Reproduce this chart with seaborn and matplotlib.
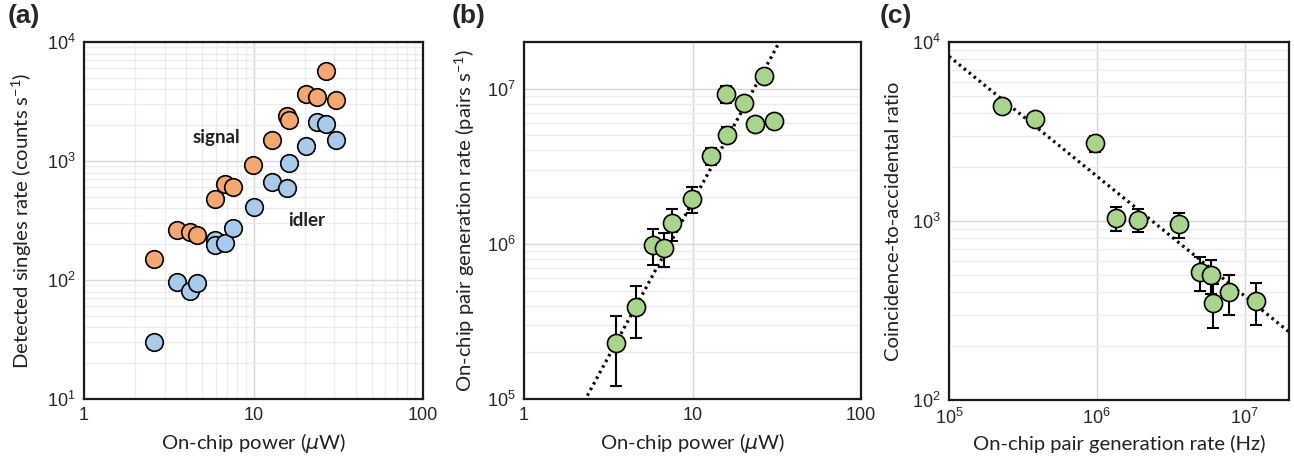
import numpy as np
import matplotlib
matplotlib.use("Agg")
import matplotlib.pyplot as plt
import matplotlib.ticker as mticker
import seaborn as sns

# ---------------- data ----------------
# (a) detected singles rates
signal_power = [2.60, 3.53, 4.21, 4.66, 5.92, 6.81, 7.59, 9.91, 12.9, 15.7, 16.2, 20.4, 23.8, 26.7, 30.8]
signal_rate = [151, 262, 254, 241, 481, 647, 607, 933, 1514, 2406, 2198, 3682, 3430, 5670, 3236]
idler_power = [2.60, 3.53, 4.21, 4.66, 5.92, 5.92, 6.81, 7.59, 10.0, 12.9, 15.7, 16.2, 20.4, 23.6, 26.9, 30.8]
idler_rate = [30.3, 96, 80.7, 95, 216, 196, 205, 271, 412, 668, 598, 964, 1330, 2143, 2061, 1514]

# (b) on-chip pair generation rate vs power
pair_power = [3.51, 4.59, 5.84, 6.76, 7.57, 9.95, 12.9, 15.7, 16.1, 20.2, 23.6, 26.7, 30.6]
pair_rate = [2.31e5, 3.91e5, 9.9e5, 9.38e5, 1.36e6, 1.95e6, 3.69e6, 9.25e6, 5.06e6, 8.05e6, 5.96e6, 1.20e7, 6.22e6]
pair_err = [1.1e5, 1.45e5, 2.6e5, 2.3e5, 3.1e5, 3.6e5, 4.8e5, 1.2e6, 6.0e5, 4.0e5, 5.0e5, 5.0e5, 5.5e5]
fit_b_amplitude = 1.86e4
fit_b_exponent = 2.0

# (c) CAR vs pair generation rate
car_rate = [2.27e5, 3.81e5, 9.75e5, 1.34e6, 1.90e6, 3.62e6, 4.97e6, 5.89e6, 6.14e6, 7.87e6, 1.19e7]
car_value = [4400, 3710, 2710, 1035, 1016, 958, 516, 499, 349, 400, 358]
car_err = [150, 150, 270, 160, 150, 150, 110, 110, 95, 100, 95]
fit_c_amplitude = 1.84e7
fit_c_exponent = -0.669

# ---------------- style ----------------
sns.set_style("white")
plt.rcParams["font.family"] = ["Lato", "DejaVu Sans"]
plt.rcParams["mathtext.fontset"] = "dejavusans"

ORANGE = "#F5A772"
BLUE = "#A8CAEC"
GREEN = "#A8D48C"
LABEL_SIZE = 14.6

fig = plt.figure(figsize=(12.94, 4.62), dpi=100)
W, H = 1294, 462


def add_axes(l, r, t, b):
    return fig.add_axes([l / W, 1 - b / H, (r - l) / W, (b - t) / H])


axA = add_axes(84, 423, 42, 399)
axB = add_axes(524, 861, 42, 399)
axC = add_axes(949, 1289, 42, 400)

pow_fmt = mticker.FuncFormatter(lambda v, p: r"$\mathregular{10^{%d}}$" % round(np.log10(v)))
plain_fmt = mticker.FuncFormatter(lambda v, p: "%g" % v)


def style_axis(ax, xgrid_minor, ylabel, xlabel, xfmt, ylabelpad):
    ax.set_xscale("log")
    ax.set_yscale("log")
    ax.xaxis.set_major_locator(mticker.LogLocator(base=10, numticks=10))
    ax.xaxis.set_minor_locator(mticker.LogLocator(base=10, subs=np.arange(2, 10), numticks=20))
    ax.yaxis.set_major_locator(mticker.LogLocator(base=10, numticks=10))
    ax.yaxis.set_minor_locator(mticker.LogLocator(base=10, subs=np.arange(2, 10), numticks=20))
    ax.xaxis.set_major_formatter(xfmt)
    ax.xaxis.set_minor_formatter(mticker.NullFormatter())
    ax.yaxis.set_major_formatter(pow_fmt)
    ax.yaxis.set_minor_formatter(mticker.NullFormatter())
    ax.tick_params(which="both", direction="in", top=False, right=False,
                   labelfontfamily="Liberation Sans", labelsize=13, color="#222222")
    ax.tick_params(which="major", length=7, width=1.4, pad=6)
    ax.tick_params(which="minor", length=5.5, width=1.2)
    ax.grid(which="major", axis="both", color="#d6d6d6", linewidth=1.0)
    ax.grid(which="minor", axis="y", color="#ececec", linewidth=1.0)
    if xgrid_minor:
        ax.grid(which="minor", axis="x", color="#ececec", linewidth=1.0)
    for s in ax.spines.values():
        s.set_color("#1a1a1a")
        s.set_linewidth(1.6)
    ax.set_axisbelow(True)
    ax.set_ylabel(ylabel, fontsize=LABEL_SIZE, labelpad=ylabelpad, color="#222222")
    ax.set_xlabel(xlabel, fontsize=LABEL_SIZE, labelpad=5, color="#222222")


# ---------------- (a) ----------------
sns.scatterplot(x=signal_power, y=signal_rate, ax=axA, color=ORANGE, edgecolor="black",
                linewidth=1.2, s=160, zorder=3, legend=False)
sns.scatterplot(x=idler_power, y=idler_rate, ax=axA, color=BLUE, edgecolor="black",
                linewidth=1.2, s=160, zorder=3, legend=False)
axA.set_xlim(1, 100)
axA.set_ylim(10, 1e4)
style_axis(axA, True, r"Detected singles rate (counts s$\mathregular{^{-1}}$)",
           r"On-chip power ($\mu$W)", plain_fmt, 9)
axA.text(6.05, 1590, "signal", fontsize=13.5, fontweight="bold", ha="center", va="center", color="#222222")
axA.text(20.5, 314, "idler", fontsize=13.5, fontweight="bold", ha="center", va="center", color="#222222")

# ---------------- (b) ----------------
xb = np.logspace(0, 2, 200)
sns.lineplot(x=xb, y=fit_b_amplitude * xb ** fit_b_exponent, ax=axB, color="black",
             linestyle=(0, (0.8, 1.2)), linewidth=2.3, zorder=2.5)
axB.errorbar(pair_power, pair_rate, yerr=pair_err, fmt="none", ecolor="black",
             elinewidth=1.5, capsize=4.5, capthick=1.5, zorder=2)
sns.scatterplot(x=pair_power, y=pair_rate, ax=axB, color=GREEN, edgecolor="black",
                linewidth=1.2, s=170, zorder=3, legend=False)
axB.set_xlim(1, 100)
axB.set_ylim(1e5, 2e7)
style_axis(axB, False, r"On-chip pair generation rate (pairs s$\mathregular{^{-1}}$)",
           r"On-chip power ($\mu$W)", plain_fmt, 7)

# ---------------- (c) ----------------
xc = np.logspace(5, np.log10(2e7), 200)
sns.lineplot(x=xc, y=fit_c_amplitude * xc ** fit_c_exponent, ax=axC, color="black",
             linestyle=(0, (0.8, 1.2)), linewidth=2.3, zorder=2.5)
axC.errorbar(car_rate, car_value, yerr=car_err, fmt="none", ecolor="black",
             elinewidth=1.5, capsize=4.5, capthick=1.5, zorder=2)
sns.scatterplot(x=car_rate, y=car_value, ax=axC, color=GREEN, edgecolor="black",
                linewidth=1.2, s=170, zorder=3, legend=False)
axC.set_xlim(1e5, 2e7)
axC.set_ylim(100, 1e4)
style_axis(axC, False, "Coincidence-to-accidental ratio",
           "On-chip pair generation rate (Hz)", pow_fmt, 7)

# panel labels
for lbl, xpix in (("(a)", 8), ("(b)", 452), ("(c)", 880)):
    fig.text(xpix / W, 1 - 4 / H, lbl, fontsize=19, fontweight="bold",
             family="Liberation Sans", ha="left", va="top")

fig.savefig("out.png", dpi=100)
